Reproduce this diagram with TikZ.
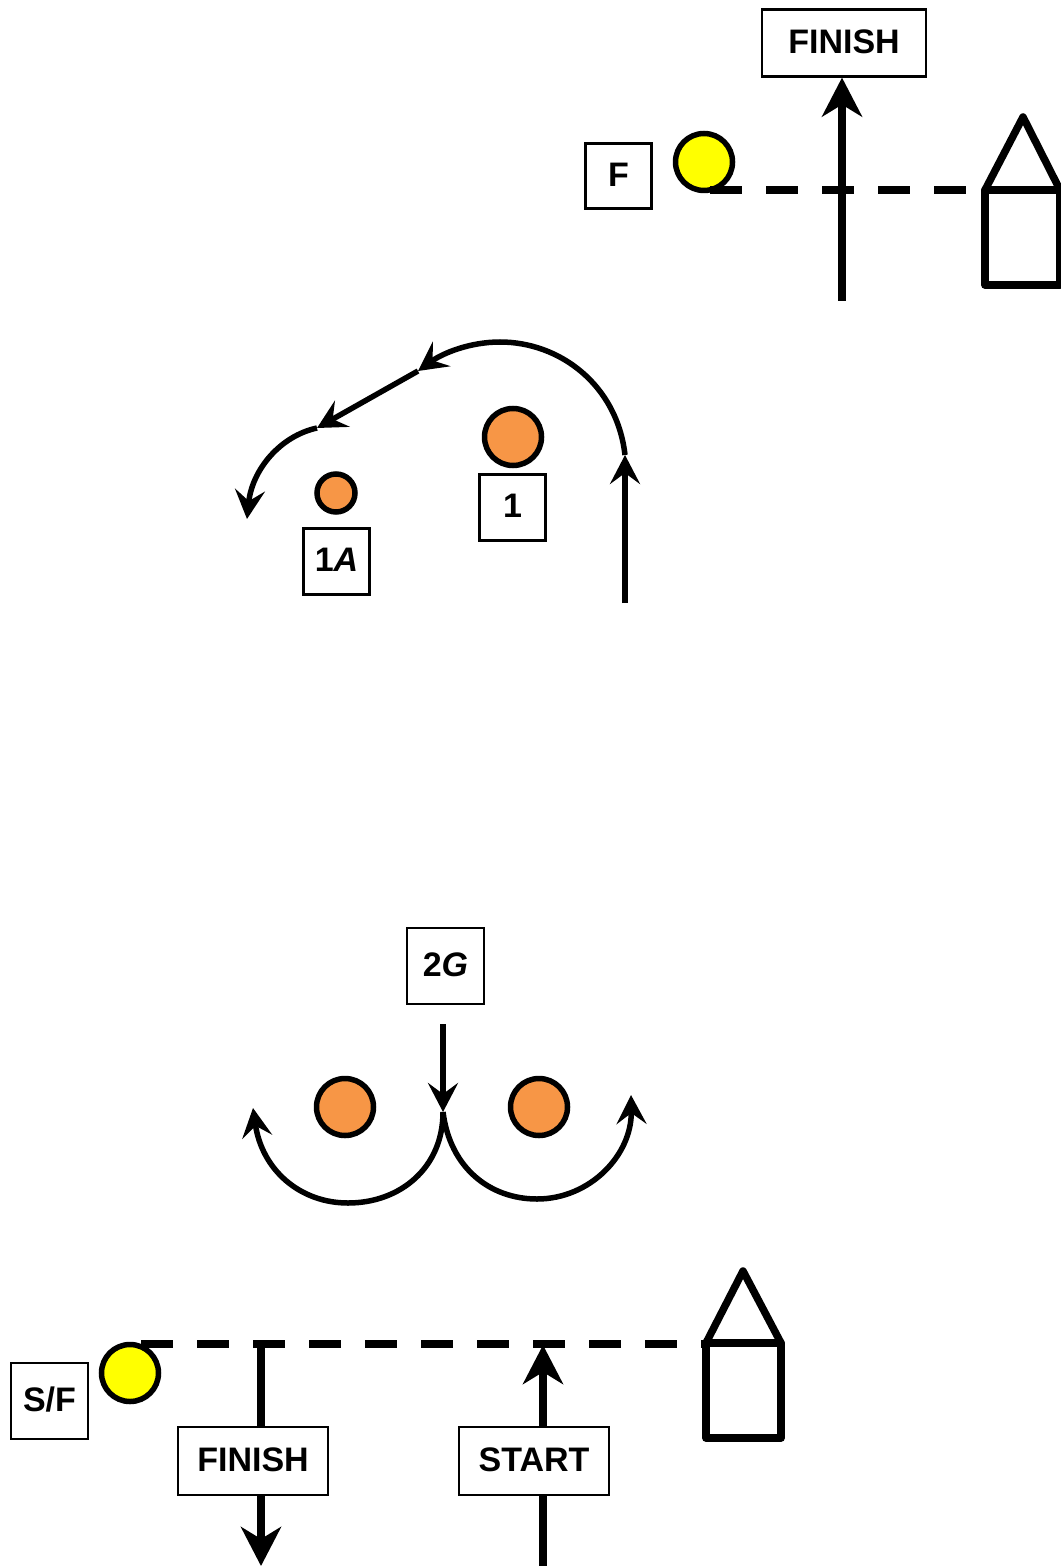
\documentclass[tikz,border=0pt]{standalone}
\usepackage{fontspec}
\setmainfont{Liberation Sans}
\usepackage{tikz}
\usetikzlibrary{arrows.meta, positioning, calc}

\definecolor{coneorange}{HTML}{F79646}
\definecolor{gateyellow}{rgb}{1,1,0}
\tikzset{
    bigtip/.tip={Stealth[length=19.5pt,width=20pt,inset=6pt]},
    smalltip/.tip={Stealth[length=14.5pt,width=15pt,inset=5.5pt]},
    signbox/.style={draw, line width=1.1pt, fill=white, inner sep=0pt, font=\fontsize{17}{20}\selectfont\bfseries, text depth=1.5pt},
    gate/.style={circle, draw, line width=2.75pt, fill=gateyellow, inner sep=0pt, minimum size=28.5pt},
    cone/.style={circle, draw, line width=2.75pt, fill=coneorange, inner sep=0pt, minimum size=28.5pt},
    gateline/.style={line width=4pt, dash pattern=on 16pt off 12pt},
    house/.style={line width=3.75pt, line join=round},
    bigrun/.style={line width=3.6pt, -{bigtip}},
    plainrun/.style={line width=3.6pt},
    smallrun/.style={line width=2.75pt, -{smalltip}}
}

\begin{document}
\begin{tikzpicture}[x=0.5pt, y=-0.5pt]
    \useasboundingbox (0,0) rectangle (1060,1566);
    % First finish
    \node[signbox, minimum width=82pt, minimum height=33.5pt] (finishtop) at (844,43) {FINISH};
    \node[signbox, minimum width=33pt, minimum height=32.5pt] (flag) at (618.5,176) {F};
    \node[gate] (gatetop) at (704,162) {};
    \coordinate (gatelinetop) at (710,190);
    \coordinate (housetop) at (985,190);
    \coordinate (runtop) at (842,301);
    \draw[gateline] (gatelinetop) -- (housetop);
    \draw[bigrun] (runtop) -- (runtop |- finishtop.south);
    \draw[house] (985,190) -- (1023,117) -- (1060,190) -- cycle;
    \draw[house] (985,190) rectangle (1060,285);
    % Corner with two cones
    \node[cone] (coneone) at (513,437) {};
    \node[signbox, minimum width=33pt, minimum height=33pt] (signone) at (512.5,507.5) {1};
    \node[cone, minimum size=19pt] (conetwo) at (336,493) {};
    \node[signbox, minimum width=33pt, minimum height=33pt] (signtwo) at (336.5,561.5) {1\textit{A}};
    \coordinate (runa) at (625,603);
    \coordinate (runb) at (625,455);
    \coordinate (runc) at (418,371);
    \coordinate (rund) at (317,428);
    \coordinate (rune) at (247,519);
    \draw[smallrun] (runa) -- (runb);
    \draw[smallrun] (runb) .. controls (617,385) and (560,342) .. (500,342) .. controls (470,342) and (443,353) .. (runc);
    \draw[smallrun] (runc) -- (rund);
    \draw[smallrun] (rund) .. controls (280,436) and (252,470) .. (rune);
    % Split around the gate cones
    \node[signbox, minimum width=38.5pt, minimum height=38pt] (signgate) at (445.5,966) {2\textit{G}};
    \node[cone] (coneleft) at (345,1107) {};
    \node[cone] (coneright) at (539,1107) {};
    \coordinate (splittop) at (443,1024);
    \coordinate (splitmid) at (443,1112);
    \coordinate (splitleft) at (253,1108);
    \coordinate (splitright) at (631,1095);
    \draw[smallrun] (splittop) -- (splitmid);
    \draw[smallrun] (splitmid) .. controls (443,1168) and (400,1203) .. (348,1203) .. controls (300,1203) and (262,1170) .. (splitleft);
    \draw[smallrun] (splitmid) .. controls (450,1168) and (490,1199) .. (537,1199) .. controls (590,1199) and (632,1155) .. (splitright);
    % Start and finish
    \node[signbox, minimum width=38.5pt, minimum height=38pt] (signsf) at (49.5,1401) {S/F};
    \node[gate] (gatelow) at (130,1373) {};
    \node[signbox, minimum width=75pt, minimum height=34pt] (finishlow) at (253,1461) {FINISH};
    \node[signbox, minimum width=75pt, minimum height=34pt] (startlow) at (534,1461) {START};
    \coordinate (gatelinelow) at (141,1344);
    \coordinate (houselow) at (706,1344);
    \coordinate (finishfoot) at (261,1566);
    \coordinate (finishhead) at (261,1344);
    \coordinate (startfoot) at (543,1566);
    \coordinate (starthead) at (543,1345);
    \draw[gateline] (gatelinelow) -- (houselow);
    \draw[plainrun] (finishhead) -- (finishhead |- finishlow.north);
    \draw[bigrun] (finishfoot |- finishlow.south) -- (finishfoot);
    \draw[plainrun] (startfoot) -- (startfoot |- startlow.south);
    \draw[bigrun] (starthead |- startlow.north) -- (starthead);
    \draw[house] (706,1343) -- (743,1271) -- (781,1343) -- cycle;
    \draw[house] (706,1343) rectangle (781,1438);
\end{tikzpicture}
\end{document}
